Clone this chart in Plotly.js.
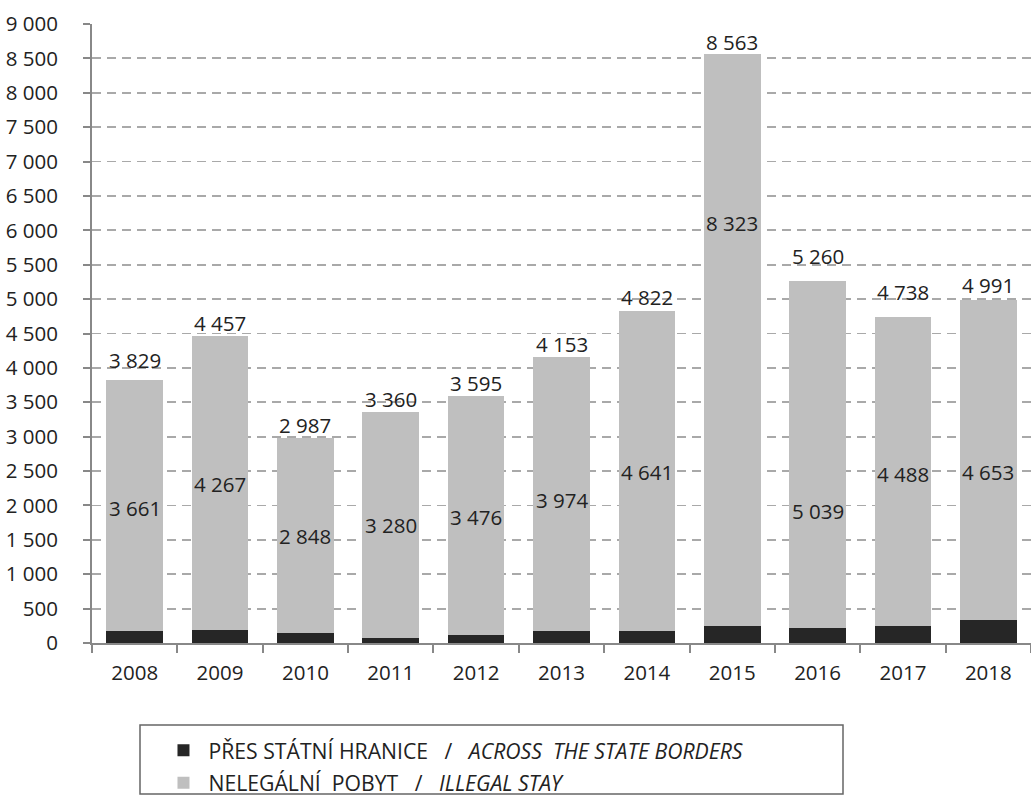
<!DOCTYPE html>
<html><head><meta charset="utf-8">
<script src="https://cdn.plot.ly/plotly-3.0.1.min.js"></script>
<style>body{margin:0;background:#fff}#c{width:1031px;height:808px}</style>
</head><body><div id="c"></div>
<script>
const years = ['2008','2009','2010','2011','2012','2013','2014','2015','2016','2017','2018'];
const totals = [3829, 4457, 2987, 3360, 3595, 4153, 4822, 8563, 5260, 4738, 4991];
const illegalStay = [3661, 4267, 2848, 3280, 3476, 3974, 4641, 8323, 5039, 4488, 4653];
const acrossBorders = totals.map((t, i) => t - illegalStay[i]);
// label anchors (y values) as placed in the original chart
const totalLabelY = [4115, 4653, 3170, 3548, 3780, 4347, 5031, 8738, 5627, 5103, 5205];
const innerLabelY = [1963, 2312, 1556, 1716, 1832, 2079, 2486, 6106, 1919, 2457, 2486];
const yTicks = [0,500,1000,1500,2000,2500,3000,3500,4000,4500,5000,5500,6000,6500,7000,7500,8000,8500,9000];
const fmt = v => String(v).replace(/\B(?=(\d{3})+(?!\d))/g, '\u00a0');

const font = 'Open Sans, Noto Sans, sans-serif';
const FS = 20.5;
const sp = '\u00a0\u00a0 /\u00a0\u00a0 ';
const traces = [
  {type:'bar', x: years, y: acrossBorders, name:'PŘES STÁTNÍ HRANICE' + sp + '<i>ACROSS\u00a0 THE STATE BORDERS</i>',
   marker:{color:'#262626'}, hoverinfo:'skip', legendgroup:'a'},
  {type:'bar', x: years, y: illegalStay, name:'NELEGÁLNÍ\u00a0 POBYT' + sp + '<i>ILLEGAL STAY</i>',
   marker:{color:'#bfbfbf'}, hoverinfo:'skip', legendgroup:'b'}
];
const annotations = [];
years.forEach((yr, i) => {
  annotations.push({x: i, y: totalLabelY[i], text: fmt(totals[i]), showarrow:false, yanchor:'middle',
    font:{family:font, size:FS, color:'#222'}});
  annotations.push({x: i, y: innerLabelY[i], text: fmt(illegalStay[i]), showarrow:false, yanchor:'middle',
    font:{family:font, size:FS, color:'#222'}});
});
const layout = {
  width:1031, height:808,
  margin:{l:92, r:0, t:24, b:165},
  barmode:'stack', bargap:0.336,
  paper_bgcolor:'#fff', plot_bgcolor:'#fff',
  font:{family:font, size:FS, color:'#222'},
  showlegend:true,
  legend:{x:0.0708, y:(643-730)/619, xanchor:'left', yanchor:'top', orientation:'v', bgcolor:'rgba(0,0,0,0)',
    font:{family:font, size:21.2, color:'#222'}, tracegroupgap:2, traceorder:'grouped', itemwidth:40},
  xaxis:{type:'category', range:[-0.5,10.5], showline:true, linecolor:'#888', linewidth:2, ticks:'outside', tickson:'boundaries',
    ticklen:8, tickcolor:'#888', tickwidth:2, showgrid:false, tickfont:{size:FS}, ticklabelstandoff:10},
  yaxis:{range:[0,9000], tickvals:yTicks, ticktext:yTicks.map(fmt), showline:true, linecolor:'#888', linewidth:2,
    ticks:'outside', ticklen:7, tickcolor:'#888', tickwidth:2, showgrid:true, gridcolor:'#a9a9a9', gridwidth:1.8,
    griddash:'9px,6px', zeroline:false, tickfont:{size:FS}, ticklabelstandoff:21},
  shapes:[{type:'rect', xref:'paper', yref:'paper', x0:(140-92)/939, x1:(843-92)/939, y0:(643-794)/619, y1:(643-725)/619,
    line:{color:'#666', width:1.5}, fillcolor:'rgba(0,0,0,0)'}],
  annotations: annotations
};
Plotly.newPlot('c', traces, layout, {staticPlot:true});
</script></body></html>
